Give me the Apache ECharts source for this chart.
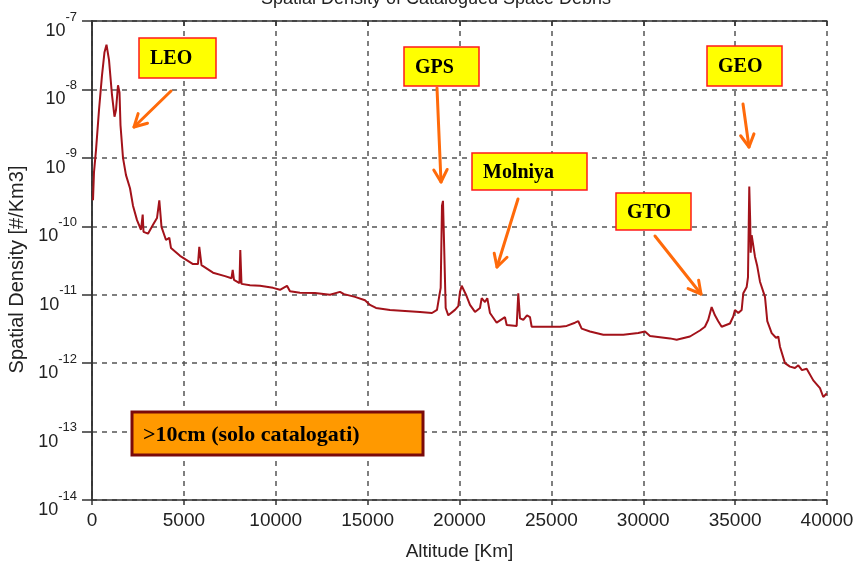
<!DOCTYPE html>
<html>
<head>
<meta charset="utf-8">
<script src="https://cdn.jsdelivr.net/npm/echarts@6/dist/echarts.min.js"></script>
<style>
  html, body { margin: 0; padding: 0; background: #fff; }
  #chart { width: 858px; height: 565px; }
</style>
</head>
<body>
<div id="chart"></div>
<script>
// altitude [km]
var altitudes = [
  54, 109, 218, 381, 544, 680, 789, 925, 1088, 1224, 1306, 1415, 1497, 1551, 1687, 1850,
  2068, 2231, 2449, 2667, 2759, 2803, 3048, 3320, 3537, 3663, 3782, 4027, 4207, 4299, 4789,
  5496, 5768, 5839, 5959, 6585, 7238, 7592, 7657, 7728, 8027, 8070, 8136, 8598, 9143, 9850,
  10231, 10612, 10775, 11319, 12135, 12952, 13496, 13714, 14312, 14857, 15129, 15455, 16217,
  17033, 17850, 18503, 18775, 18911, 18976, 19047, 19101, 19156, 19248, 19390, 19754, 19934,
  20027, 20119, 20353, 20571, 20843, 21115, 21208, 21387, 21512, 21659, 22023, 22475, 22568,
  23112, 23199, 23292, 23472, 23673, 23836, 23928, 24745, 25469, 25833, 26285, 26465, 26649,
  27101, 27825, 28913, 29729, 30094, 30366, 31454, 31819, 32541, 33085, 33357, 33537, 33722,
  33902, 34081, 34267, 34718, 34898, 34991, 35171, 35356, 35444, 35629, 35700, 35770, 35819,
  35847, 35901, 36081, 36206, 36353, 36625, 36750, 36990, 37224, 37349, 37441, 37713, 37985,
  38257, 38437, 38638, 38894, 39253, 39618, 39797, 39982
];
// spatial density [#/km3]
var densities = [
  2.4e-10, 6.2e-10, 1.3e-9, 5.0e-9, 1.6e-8, 3.5e-8, 4.5e-8, 2.7e-8, 8.3e-9, 4.0e-9, 5.0e-9, 1.15e-8, 9.0e-9, 3.0e-9, 1.0e-9, 5.6e-10,
  3.6e-10, 2.0e-10, 1.23e-10, 8.9e-11, 1.48e-10, 8.3e-11, 7.8e-11, 1.05e-10, 1.32e-10, 2.4e-10, 9.8e-11, 6.3e-11, 6.8e-11, 4.8e-11, 3.7e-11,
  2.8e-11, 2.8e-11, 5.0e-11, 2.7e-11, 2.1e-11, 1.87e-11, 1.74e-11, 2.3e-11, 1.65e-11, 1.48e-11, 4.5e-11, 1.44e-11, 1.38e-11, 1.35e-11, 1.26e-11,
  1.18e-11, 1.35e-11, 1.12e-11, 1.07e-11, 1.06e-11, 1.0e-11, 1.1e-11, 1.02e-11, 9.3e-12, 8.3e-12, 7.1e-12, 6.4e-12, 6.0e-12,
  5.8e-12, 5.6e-12, 5.4e-12, 6.0e-12, 1.0e-11, 1.26e-11, 2.0e-10, 2.35e-10, 6.3e-11, 6.4e-12, 5.0e-12, 6.0e-12, 6.8e-12,
  1.1e-11, 1.35e-11, 1.0e-11, 7.1e-12, 5.6e-12, 6.4e-12, 8.9e-12, 7.8e-12, 8.9e-12, 5.4e-12, 3.9e-12, 4.7e-12, 3.6e-12,
  3.5e-12, 1.05e-11, 4.5e-12, 4.3e-12, 5.0e-12, 4.7e-12, 3.4e-12, 3.4e-12, 3.4e-12, 3.5e-12, 3.9e-12, 4.1e-12, 3.2e-12,
  2.9e-12, 2.6e-12, 2.6e-12, 2.75e-12, 2.9e-12, 2.5e-12, 2.3e-12, 2.2e-12, 2.45e-12, 3.0e-12, 3.4e-12, 4.3e-12, 6.6e-12,
  5.0e-12, 4.1e-12, 3.4e-12, 3.8e-12, 4.8e-12, 6.0e-12, 5.4e-12, 6.0e-12, 1.05e-11, 1.3e-11, 1.8e-11, 3.8e-10, 1.23e-10,
  4.1e-11, 7.4e-11, 3.6e-11, 2.6e-11, 1.55e-11, 9.3e-12, 4.1e-12, 2.75e-12, 2.35e-12, 2.45e-12, 1.74e-12, 1.0e-12, 8.9e-13,
  8.5e-13, 9.3e-13, 7.9e-13, 8.3e-13, 5.6e-13, 4.3e-13, 3.2e-13, 3.6e-13
];
var xTicks = [0, 5000, 10000, 15000, 20000, 25000, 30000, 35000, 40000];

// annotation labels
var boxLabels = ['LEO', 'GPS', 'Molniya', 'GTO', 'GEO'];

var seriesData = altitudes.map(function (a, i) { return [a, densities[i]]; });

var ORANGE = '#FF6A0A';

function box(text, x, y, w, h) {
    return [
        { type: 'rect', shape: { x: x, y: y, width: w, height: h },
          style: { fill: '#FFFF00', stroke: '#FF1A1A', lineWidth: 1.5 }, z: 100 },
        { type: 'text', x: x + 11, y: y + h / 2 + 1,
          style: { text: text, font: 'bold 20px "Liberation Serif", serif', fill: '#000', verticalAlign: 'middle' }, z: 101 }
    ];
}

function arrow(x1, y1, x2, y2) {
    var ang = Math.atan2(y2 - y1, x2 - x1), len = 14, spread = 0.5;
    var p1 = [x2 - len * Math.cos(ang - spread), y2 - len * Math.sin(ang - spread)];
    var p2 = [x2 - len * Math.cos(ang + spread), y2 - len * Math.sin(ang + spread)];
    return [
        { type: 'polyline', shape: { points: [[x1, y1], [x2, y2]] },
          style: { stroke: ORANGE, lineWidth: 3, fill: null, lineCap: 'round' }, z: 100 },
        { type: 'polyline', shape: { points: [p1, [x2, y2], p2] },
          style: { stroke: ORANGE, lineWidth: 3, fill: null, lineCap: 'round', lineJoin: 'round' }, z: 100 }
    ];
}

var graphics = [].concat(
    box(boxLabels[0], 139, 38, 77, 40),
    box(boxLabels[1], 404, 47, 75, 39),
    box(boxLabels[2], 472, 153, 115, 37),
    box(boxLabels[3], 616, 193, 75, 37),
    box(boxLabels[4], 707, 46, 75, 40),
    arrow(171, 91, 134, 127),
    arrow(437, 88, 441, 182),
    arrow(518, 199, 497, 267),
    arrow(655, 236, 701, 294),
    arrow(743, 104, 749, 147),
    [
        { type: 'rect', shape: { x: 132, y: 412, width: 291, height: 43 },
          style: { fill: '#FF9900', stroke: '#7A0A0A', lineWidth: 3 }, z: 100 },
        { type: 'text', x: 143, y: 435,
          style: { text: '>10cm (solo catalogati)', font: 'bold 22px "Liberation Serif", serif', fill: '#000', verticalAlign: 'middle' }, z: 101 }
    ]
);

var chart = echarts.init(document.getElementById('chart'));
chart.setOption({
    animation: false,
    backgroundColor: '#fff',
    title: {
        text: 'Spatial Density of Catalogued Space Debris',
        left: 436, top: -10, padding: 0, textAlign: 'center',
        textStyle: { fontFamily: 'Liberation Sans', fontSize: 18, fontWeight: 'normal', color: '#222' }
    },
    grid: { left: 92, right: 31, top: 21, bottom: 65, outerBoundsMode: 'none', containLabel: false },
    xAxis: [{
        type: 'value', min: 0, max: 40000, interval: 5000,
        name: 'Altitude [Km]', nameLocation: 'middle', nameGap: 42,
        nameTextStyle: { fontFamily: 'Liberation Sans', fontSize: 19, color: '#222' },
        axisLine: { lineStyle: { color: '#333', width: 1.5 } },
        axisTick: { inside: false, length: 5, lineStyle: { color: '#333', width: 1.5 } },
        axisLabel: { fontFamily: 'Liberation Sans', fontSize: 19, color: '#222', margin: 11,
            formatter: function (v) { return xTicks.indexOf(v) >= 0 ? String(v) : ''; } },
        splitLine: { show: true, lineStyle: { color: '#555', width: 1.5, type: [5, 5] } }
    }, {
        type: 'value', min: 0, max: 40000, interval: 5000, position: 'top',
        axisLine: { show: true, lineStyle: { color: '#333', width: 1.5 } },
        axisTick: { show: true, inside: true, length: 5, lineStyle: { color: '#333', width: 1.5 } },
        axisLabel: { show: false },
        splitLine: { show: false }
    }],
    yAxis: [{
        type: 'log', logBase: 10, min: 1e-14, max: 1e-7,
        name: 'Spatial Density [#/Km3]', nameLocation: 'middle', nameGap: 64,
        nameTextStyle: { fontFamily: 'Liberation Sans', fontSize: 20, color: '#222', padding: [0, 18, 0, 0] },
        axisLine: { show: true, lineStyle: { color: '#333', width: 1.5 } },
        axisTick: { show: true, inside: false, length: 10, lineStyle: { color: '#333', width: 1.5 } },
        minorTick: { show: false },
        axisLabel: {
            margin: 15,
            formatter: function (v) {
                var e = Math.round(Math.log10(v));
                return '{b|10}{e|' + e + '}';
            },
            rich: {
                b: { fontFamily: 'Liberation Sans', fontSize: 18, color: '#222', padding: [20, 0, 0, 0] },
                e: { fontFamily: 'Liberation Sans', fontSize: 13, color: '#222', padding: [0, 0, 8, 0] }
            }
        },
        splitLine: { show: true, lineStyle: { color: '#555', width: 1.5, type: [5, 5] } }
    }, {
        type: 'log', logBase: 10, min: 1e-14, max: 1e-7, position: 'right',
        axisLine: { show: true, lineStyle: { color: '#333', width: 1.5 } },
        axisTick: { show: false },
        axisLabel: { show: false },
        splitLine: { show: false }
    }],
    series: [{
        type: 'line',
        xAxisIndex: 0, yAxisIndex: 0,
        data: seriesData,
        showSymbol: false,
        lineStyle: { color: '#A3121A', width: 2 },
        z: 5
    }],
    graphic: graphics
});
</script>
</body>
</html>
